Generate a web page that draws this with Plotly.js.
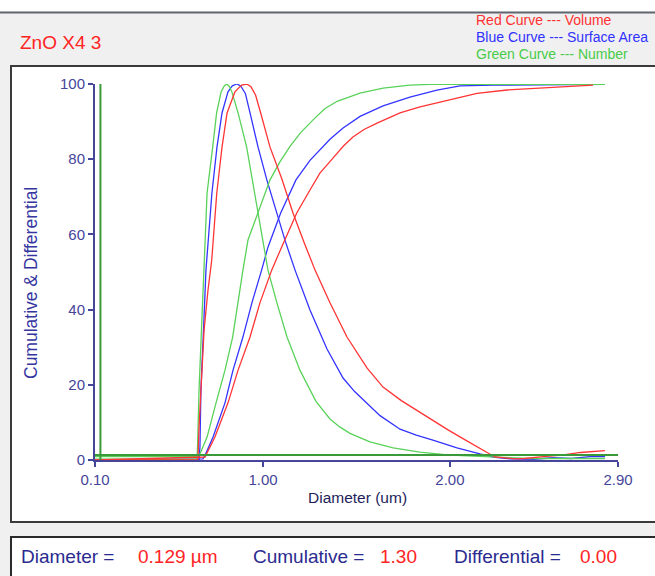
<!DOCTYPE html>
<html>
<head>
<meta charset="utf-8">
<script src="https://cdn.plot.ly/plotly-3.0.1.min.js"></script>
<style>
html,body{margin:0;padding:0;background:#f0f0f0;}
#chart{width:655px;height:576px;}
</style>
</head>
<body>
<div id="chart"></div>
<script>
// ---- Data ----
const xTickVals = [0.10, 1.00, 2.00, 2.90];
const xTickText = ['0.10', '1.00', '2.00', '2.90'];
const yTickVals = [0, 20, 40, 60, 80, 100];

// Volume (red)
const volDiffDiam = [0.10, 0.651, 0.657, 0.667, 0.684, 0.705, 0.725, 0.752, 0.780, 0.807, 0.849, 0.885, 0.912, 0.935, 0.960, 0.987, 1.037, 1.100, 1.160, 1.220, 1.278, 1.358, 1.449, 1.556, 1.642, 1.740, 1.829, 1.910, 1.990, 2.070, 2.145, 2.241, 2.348, 2.40, 2.50, 2.60, 2.70, 2.80, 2.83];
const volDiff     = [0, 0.1, 8.8, 18.6, 34.6, 45.2, 53.2, 71.0, 83.2, 92.3, 97.9, 99.7, 100, 99.3, 97.0, 92.3, 83.2, 74.8, 65.7, 57.8, 50.5, 41.8, 32.7, 24.5, 19.4, 15.8, 13.0, 10.4, 8.0, 5.7, 3.5, 0.8, 0.3, 0.4, 0.9, 1.3, 2.0, 2.3, 2.5];
const volCumDiam  = [0.10, 0.689, 0.742, 0.812, 0.866, 0.930, 0.983, 1.046, 1.099, 1.180, 1.251, 1.304, 1.374, 1.430, 1.481, 1.540, 1.610, 1.733, 1.840, 2.000, 2.145, 2.306, 2.466, 2.589, 2.766];
const volCum      = [0, 0.8, 6.1, 15.2, 23.9, 32.7, 41.8, 50.5, 56.6, 65.7, 71.8, 76.3, 80.3, 83.5, 85.9, 87.9, 89.6, 92.3, 93.9, 95.7, 97.5, 98.4, 98.9, 99.3, 99.7];

// Surface area (blue)
const areaDiffDiam = [0.10, 0.657, 0.662, 0.667, 0.681, 0.694, 0.726, 0.753, 0.780, 0.812, 0.835, 0.859, 0.880, 0.905, 0.930, 0.973, 1.020, 1.074, 1.120, 1.171, 1.251, 1.342, 1.428, 1.490, 1.556, 1.626, 1.733, 1.820, 1.909, 2.038, 2.161, 2.231, 2.322, 2.45, 2.55, 2.65, 2.75, 2.83];
const areaDiff     = [0, 0.1, 3.5, 18.6, 34.6, 50.5, 71.0, 83.2, 92.3, 97.9, 99.5, 100, 99.5, 97.5, 92.3, 83.2, 74.5, 65.7, 58.0, 50.5, 39.9, 29.5, 21.8, 18.2, 15.0, 11.8, 8.2, 6.6, 5.3, 3.2, 1.6, 0.8, 0.3, 0.2, 0.6, 0.4, 0.9, 0.9];
const areaCumDiam  = [0.10, 0.678, 0.690, 0.732, 0.796, 0.839, 0.892, 0.940, 0.992, 1.026, 1.094, 1.176, 1.251, 1.304, 1.358, 1.428, 1.519, 1.642, 1.786, 1.931, 2.054, 2.231, 2.83];
const areaCum      = [0, 0.3, 1.3, 6.1, 15.2, 23.9, 32.7, 41.8, 50.5, 56.6, 65.7, 74.5, 79.7, 82.6, 85.3, 88.3, 91.4, 94.2, 96.5, 98.4, 99.5, 99.7, 99.9];

// Number (green)
const numDiffDiam = [0.10, 0.646, 0.649, 0.657, 0.670, 0.684, 0.700, 0.730, 0.751, 0.775, 0.792, 0.805, 0.818, 0.833, 0.866, 0.912, 0.971, 1.026, 1.074, 1.128, 1.197, 1.283, 1.358, 1.410, 1.465, 1.572, 1.696, 1.840, 2.000, 2.215, 2.43, 2.83];
const numDiff     = [0.2, 0.2, 3.5, 18.6, 34.6, 50.5, 71.0, 83.2, 92.3, 97.9, 99.5, 100, 99.4, 97.9, 92.3, 83.2, 65.7, 50.5, 41.8, 32.7, 23.9, 15.6, 10.9, 8.8, 7.1, 4.8, 3.2, 2.1, 1.3, 0.8, 0.4, 0.4];
const numCumDiam  = [0.10, 0.646, 0.662, 0.700, 0.748, 0.796, 0.837, 0.864, 0.892, 0.919, 0.971, 1.037, 1.090, 1.144, 1.200, 1.270, 1.330, 1.396, 1.519, 1.642, 1.786, 1.893, 2.83];
const numCum      = [0.9, 0.9, 1.6, 6.1, 15.2, 23.9, 32.7, 41.8, 50.5, 58.5, 65.7, 74.5, 79.3, 83.4, 87.0, 90.6, 93.4, 95.4, 97.6, 98.9, 99.7, 99.9, 99.9];

// Cursor readout
const cursorDiameter = 0.129;
const cursorCumulative = 1.30;
const cursorDifferential = 0.00;

// ---- Layout helpers (pixel -> paper) ----
const W = 655, H = 576;
const M = {l: 95, r: 37, t: 84, b: 116};
const PW = W - M.l - M.r, PH = H - M.t - M.b;
const px = x => (x - M.l) / PW;
const py = y => (H - M.b - y) / PH;

const RED = '#ff3434', BLUE = '#3434ff', GREEN = '#5ad25a', DKGREEN = '#3a9a3a';
const AXIS = '#45459a';
const FONT = 'Arial, "Liberation Sans", sans-serif';

function line(x, y, color, name) {
  return {x: x, y: y, type: 'scatter', mode: 'lines', name: name,
          line: {color: color, width: 1.3}, hoverinfo: 'skip', showlegend: false};
}

const traces = [
  line(areaDiffDiam, areaDiff, BLUE, 'Surface Area differential'),
  line(areaCumDiam, areaCum, BLUE, 'Surface Area cumulative'),
  line(numDiffDiam, numDiff, GREEN, 'Number differential'),
  line(numCumDiam, numCum, GREEN, 'Number cumulative'),
  line(volDiffDiam, volDiff, RED, 'Volume differential'),
  line(volCumDiam, volCum, RED, 'Volume cumulative'),
  {x: [cursorDiameter, cursorDiameter], y: [0, 100], type: 'scatter', mode: 'lines',
   line: {color: DKGREEN, width: 2}, hoverinfo: 'skip', showlegend: false},
  {x: [0.10, 2.90], y: [cursorCumulative, cursorCumulative], type: 'scatter', mode: 'lines',
   line: {color: DKGREEN, width: 2}, hoverinfo: 'skip', showlegend: false}
];

function ann(text, x, y, color, size, extra) {
  return Object.assign({text: text, x: px(x), y: py(y), xref: 'paper', yref: 'paper',
    xanchor: 'left', yanchor: 'middle', showarrow: false,
    font: {family: FONT, size: size, color: color}}, extra || {});
}

const layout = {
  width: W, height: H,
  margin: M,
  paper_bgcolor: '#f0f0f0',
  plot_bgcolor: 'rgba(0,0,0,0)',
  showlegend: false,
  xaxis: {
    range: [0.10, 2.90], tickvals: xTickVals, ticktext: xTickText,
    showgrid: false, zeroline: false, showline: true, linecolor: AXIS, linewidth: 2,
    ticks: 'outside', ticklen: 5, tickwidth: 2, tickcolor: AXIS,
    tickfont: {family: FONT, size: 15, color: AXIS}, fixedrange: true
  },
  yaxis: {
    range: [0, 100], tickvals: yTickVals,
    showgrid: false, zeroline: false, showline: true, linecolor: AXIS, linewidth: 2,
    ticks: 'outside', ticklen: 5, tickwidth: 2, tickcolor: AXIS,
    tickfont: {family: FONT, size: 15, color: AXIS}, fixedrange: true
  },
  shapes: [
    {type: 'rect', xref: 'paper', yref: 'paper', x0: px(-5), x1: px(665), y0: py(-5), y1: py(11.5),
     fillcolor: '#ffffff', line: {width: 0}, layer: 'below'},
    {type: 'line', xref: 'paper', yref: 'paper', x0: px(-5), x1: px(665), y0: py(12.5), y1: py(12.5),
     line: {color: '#5f6670', width: 2}, layer: 'below'},
    {type: 'rect', xref: 'paper', yref: 'paper', x0: px(11), x1: px(665), y0: py(66), y1: py(522),
     fillcolor: '#ffffff', line: {color: '#3a3a3a', width: 2}, layer: 'below'},
    {type: 'rect', xref: 'paper', yref: 'paper', x0: px(11), x1: px(665), y0: py(537), y1: py(590),
     fillcolor: '#ffffff', line: {color: '#2a2a2a', width: 2}, layer: 'below'}
  ],
  annotations: [
    ann('ZnO X4 3', 18, 42, '#ff2424', 19),
    ann('Red Curve --- Volume', 474, 20, '#ff3030', 14),
    ann('Blue Curve --- Surface Area', 474, 37, '#3030ff', 14),
    ann('Green Curve --- Number', 474, 54, '#48cc48', 14),
    ann('Cumulative & Differential', 31, 283, '#3535a0', 17.5, {xanchor: 'center', textangle: -90}),
    ann('Diameter (um)', 357, 497, '#1e1e5a', 15.5, {xanchor: 'center'}),
    ann('Diameter =', 19, 556, '#2a2a90', 19),
    ann(cursorDiameter.toFixed(3) + ' µm', 136, 556, '#ff2424', 19),
    ann('Cumulative =', 251, 556, '#2a2a90', 19),
    ann(cursorCumulative.toFixed(2), 378, 556, '#ff2424', 19),
    ann('Differential =', 452, 556, '#2a2a90', 19),
    ann(cursorDifferential.toFixed(2), 578, 556, '#ff2424', 19)
  ]
};

Plotly.newPlot('chart', traces, layout, {displayModeBar: false, staticPlot: true});
</script>
</body>
</html>
